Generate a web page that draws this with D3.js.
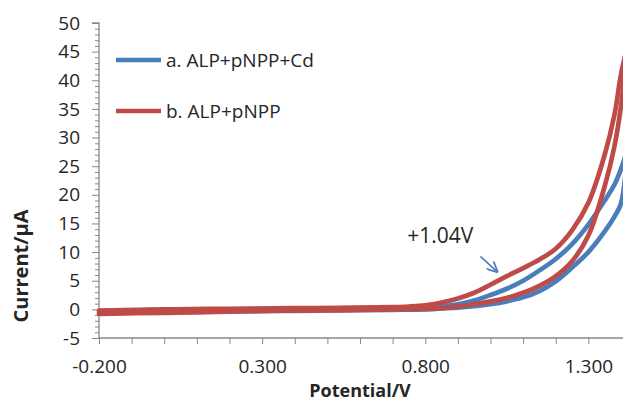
<!DOCTYPE html>
<html>
<head>
<meta charset="utf-8">
<script src="https://cdn.jsdelivr.net/npm/d3@7"></script>
<style>
  body { margin: 0; background: #fff; }
  text { font-family: "Open Sans", sans-serif; fill: #262626; }
</style>
</head>
<body>
<div id="chart"></div>
<script>
// potential grid (V), shared by every branch
var potential = [-0.2, 0.0, 0.2, 0.4, 0.6, 0.7, 0.75, 0.8, 0.85, 0.9, 0.95, 1.0, 1.05, 1.1, 1.15, 1.2, 1.25, 1.3, 1.35, 1.38, 1.4, 1.42];

// current (uA) - a. ALP+pNPP+Cd (blue)
var blueForward = [-0.3, -0.1, 0.0, 0.1, 0.2, 0.25, 0.3, 0.38, 0.55, 0.9, 1.55, 2.5, 3.6, 5.0, 6.8, 8.8, 11.4, 14.8, 19.0, 21.8, 24.5, 28.0];
var blueReverse = [-0.6, -0.5, -0.35, -0.25, -0.15, -0.1, -0.05, 0.0, 0.15, 0.3, 0.55, 0.9, 1.4, 2.1, 3.2, 4.9, 7.3, 10.0, 13.6, 16.2, 18.5, 28.0];

// current (uA) - b. ALP+pNPP (red)
var redForward = [-0.2, 0.0, 0.1, 0.2, 0.3, 0.4, 0.5, 0.7, 1.2, 1.9, 2.9, 4.3, 5.8, 7.2, 8.7, 10.6, 13.8, 18.6, 27.0, 34.0, 41.0, 46.0];
var redReverse = [-0.8, -0.6, -0.4, -0.2, -0.1, 0.0, 0.05, 0.1, 0.2, 0.5, 0.9, 1.4, 2.0, 2.9, 4.1, 5.8, 8.4, 12.9, 21.5, 28.5, 35.5, 46.0];

var seriesNames = ["a. ALP+pNPP+Cd", "b. ALP+pNPP"];
var seriesColors = ["#4a7ebb", "#be4b48"];

var yTicks = d3.range(-5, 51, 5);
var yMinorTicks = d3.range(-5, 51, 1).filter(function(d){ return d % 5 != 0 });
var xTicks = d3.range(-2, 14).map(function(d){ return d / 10 });
var xLabels = [-0.2, 0.3, 0.8, 1.3];

// annotation: label and arrow, in data units
var peakLabel = {text: "+1.04V", v: 0.745, i: 11.6};
var peakArrow = [[0.969, 9.25], [1.02, 6.6]];

var width = 623, height = 401;
var margin = {top: 23, right: 2, bottom: 63, left: 99};

var svg = d3.select("#chart").append("svg")
  .attr("width", width)
  .attr("height", height);

var x = d3.scaleLinear()
  .domain([-0.2, 1.4])
  .range([margin.left, width - margin.right]);

var y = d3.scaleLinear()
  .domain([-5, 50])
  .range([height - margin.bottom, margin.top]);

var axisColor = "#8c8782";

// y axis, minor ticks first then major
var yMinor = svg.append("g")
  .attr("transform", "translate(" + margin.left + ",0)")
  .call(d3.axisLeft(y).tickValues(yMinorTicks).tickSize(4).tickFormat(""));
yMinor.select(".domain").remove();
yMinor.selectAll("line").attr("stroke", axisColor);

var yAxis = svg.append("g")
  .attr("transform", "translate(" + margin.left + ",0)")
  .call(d3.axisLeft(y).tickValues(yTicks).tickSize(7).tickPadding(12)
    .tickFormat(function(d){ return String(d) }));
yAxis.select(".domain").attr("stroke", axisColor).attr("stroke-width", 1.3).attr("d", "M-7," + y(50) + "H0V" + y(-5));
yAxis.selectAll("line").attr("stroke", axisColor);
yAxis.selectAll("text").style("font-size", "19px").style("fill", "#262626");

// x axis
var xAxis = svg.append("g")
  .attr("transform", "translate(0," + y(-5) + ")")
  .call(d3.axisBottom(x).tickValues(xTicks).tickSize(6).tickPadding(16)
    .tickFormat(function(d){
      var hit = xLabels.some(function(l){ return Math.abs(l - d) < 1e-9 });
      return hit ? d3.format(".3f")(d).replace("\u2212", "-") : "";
    }));
xAxis.select(".domain").attr("stroke", axisColor).attr("stroke-width", 1.3)
  .attr("d", "M" + margin.left + ",0H" + width);
xAxis.selectAll("line").attr("stroke", axisColor);
xAxis.selectAll("text").style("font-size", "19px").style("fill", "#262626");

// axis titles
svg.append("text")
  .attr("x", (x(-0.2) + x(1.4)) / 2)
  .attr("y", 397)
  .attr("text-anchor", "middle")
  .style("font-size", "18px")
  .style("font-weight", "bold")
  .text("Potential/V");

svg.append("text")
  .attr("transform", "translate(28,266) rotate(-90)")
  .attr("text-anchor", "middle")
  .style("font-size", "20px")
  .style("font-weight", "bold")
  .text("Current/\u03bcA");

// curves
var line = d3.line()
  .x(function(d){ return x(d[0]) })
  .y(function(d){ return y(d[1]) })
  .curve(d3.curveCatmullRom.alpha(0.5));

var branches = [
  {color: seriesColors[0], values: blueForward},
  {color: seriesColors[0], values: blueReverse},
  {color: seriesColors[1], values: redForward},
  {color: seriesColors[1], values: redReverse}
];

svg.append("clipPath").attr("id", "plotclip")
  .append("rect").attr("x", 0).attr("y", 0).attr("width", width).attr("height", y(-5));

svg.append("g").attr("clip-path", "url(#plotclip)")
  .selectAll("path")
  .data(branches)
  .enter()
  .append("path")
  .attr("fill", "none")
  .attr("stroke", function(d){ return d.color })
  .attr("stroke-width", 4.7)
  .attr("stroke-linecap", "round")
  .attr("d", function(d){
    return line(potential.map(function(v, k){ return [v, d.values[k]] }));
  });

// legend
var legend = svg.append("g")
  .selectAll("g")
  .data(seriesNames)
  .enter()
  .append("g")
  .attr("transform", function(d, k){ return "translate(116," + (60 + k * 51) + ")" });

legend.append("line")
  .attr("x1", 0).attr("x2", 45)
  .attr("stroke", function(d, k){ return seriesColors[k] })
  .attr("stroke-width", 4.7);

legend.append("text")
  .attr("x", 50)
  .attr("dy", "0.35em")
  .style("font-size", "19px")
  .text(function(d){ return d });

// annotation
svg.append("defs").append("marker")
  .attr("id", "arrowhead")
  .attr("viewBox", "0 0 10 10")
  .attr("refX", 9).attr("refY", 5)
  .attr("markerWidth", 11).attr("markerHeight", 11)
  .attr("markerUnits", "userSpaceOnUse")
  .attr("orient", "auto")
  .append("path")
  .attr("d", "M0,0L10,5L0,10")
  .attr("fill", "none")
  .attr("stroke", seriesColors[0])
  .attr("stroke-width", 1.6);

svg.append("line")
  .attr("x1", x(peakArrow[0][0])).attr("y1", y(peakArrow[0][1]))
  .attr("x2", x(peakArrow[1][0])).attr("y2", y(peakArrow[1][1]))
  .attr("stroke", seriesColors[0])
  .attr("stroke-width", 1.6)
  .attr("marker-end", "url(#arrowhead)");

svg.append("text")
  .attr("x", x(peakLabel.v))
  .attr("y", y(peakLabel.i))
  .style("font-size", "21px")
  .text(peakLabel.text);
</script>
</body>
</html>
